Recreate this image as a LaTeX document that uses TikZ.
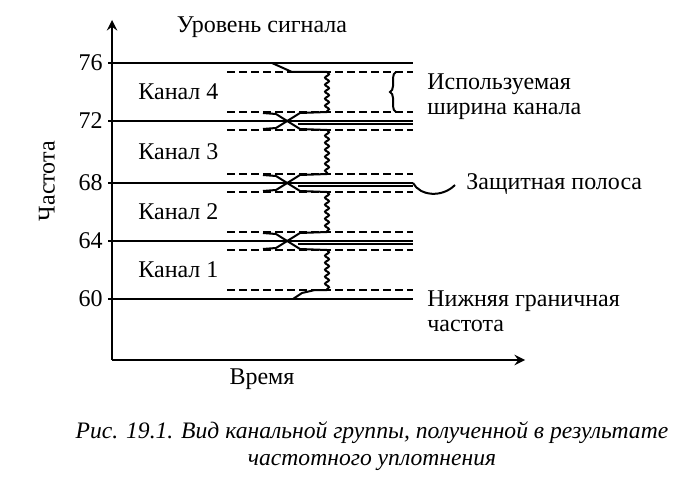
\documentclass[tikz,border=0pt]{standalone}
\usepackage{fontspec}
\setmainfont{Liberation Serif}
\usetikzlibrary{decorations.pathmorphing, decorations.pathreplacing}

\tikzset{
    axis/.style = {line width=1.3pt, ->, >=stealth},
    bound/.style = {line width=1.3pt},
    guard/.style = {line width=0.9pt, dash pattern=on 4pt off 2pt},
    sig/.style = {line width=1pt},
    wave/.style = {line width=1pt, decorate, decoration={snake, amplitude=1pt, segment length=3.5pt}},
    lbl/.style = {font=\fontsize{12}{12.5}\selectfont, inner sep=0pt},
    caption/.style = {font=\fontsize{11.8}{14}\selectfont\itshape, inner sep=0pt}
}

\begin{document}
\begin{tikzpicture}[x=0.5pt, y=-0.5pt]
    \useasboundingbox (0,0) rectangle (679,492);
    \coordinate (O) at (112,360);
    \coordinate (ytop) at (112,20);
    \coordinate (xend) at (525,360);
    \draw[axis] (O) -- (ytop);
    \draw[axis] (O) -- (xend);
    \node[lbl] (ylevel) at (262,27) {Уровень сигнала};
    \node[lbl, rotate=90] (freq) at (47,181) {Частота};
    \node[lbl] (time) at (262,379) {Время};
    % levels
    \foreach \f/\y in {76/63, 72/121, 68/183, 64/241, 60/299} {
        \draw[line width=0.8pt] (108,\y) -- (112,\y);
        \node[lbl, anchor=east] (f\f) at (103,\y) {\f};
        \draw[bound] (112,\y) -- (413,\y);
    }
    \foreach \y in {121, 183, 241}
        \draw[line width=0.8pt] (298,\y+3) -- (413,\y+3);
    % guard bands
    \foreach \y in {72, 112, 130, 174, 192, 232, 250, 290}
        \draw[guard] (227,\y) -- (413,\y);
    % channels
    \foreach \k/\y in {4/92, 3/152, 2/212, 1/270}
        \node[lbl, anchor=west] (ch\k) at (138,\y) {Канал \k};
    \foreach \a/\b in {72/112, 130/174, 192/232, 250/290}
        \draw[wave] (327,\a) -- (327,\b);
    \draw[sig] (272,63) -- (292,72) -- (327,72);
    \foreach \y in {121, 183, 241} {
        \draw[sig] (263,\y-8) -- (276,\y-7) -- (300,\y+8) -- (327,\y+9);
        \draw[sig] (263,\y+8) -- (276,\y+7) -- (300,\y-8) -- (327,\y-9);
    }
    \draw[sig] (293,299) -- (302,293) -- (315,290) -- (327,290);
    % notes
    \draw[sig, decorate, decoration={brace, amplitude=3pt}] (396,112) -- (396,72);
    \node[lbl, anchor=west, align=left] (width) at (427,97) {Используемая\\ширина канала};
    \draw[sig] (413,183) .. controls (420,196) and (442,198) .. (455,185);
    \node[lbl, anchor=west] (guardlbl) at (466,184) {Защитная полоса};
    \node[lbl, anchor=west, align=left] (low) at (427,311) {Нижняя граничная\\частота};
    % caption
    \node[caption] (cap1) at (372,433) {Рис. 19.1. Вид канальной группы, полученной в результате};
    \node[caption] (cap2) at (372,462) {частотного уплотнения};
\end{tikzpicture}
\end{document}
